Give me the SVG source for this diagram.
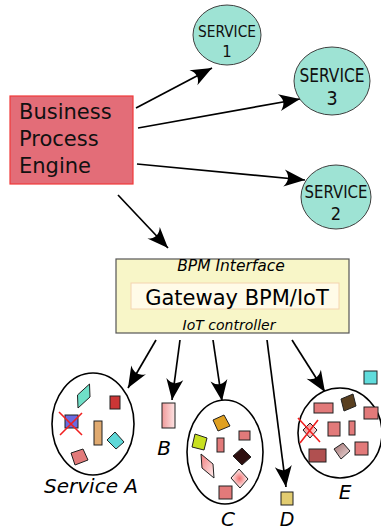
<svg xmlns="http://www.w3.org/2000/svg" width="381" height="531" viewBox="0 0 381 531">
<defs>
<style>
.svc{fill:#9ee3d4;stroke:#404040;stroke-width:1}
.svt{font-family:"DejaVu Sans Condensed","DejaVu Sans",sans-serif;fill:#111;text-anchor:middle}
.con{stroke:#000;stroke-width:1.7;fill:none}
.grp{fill:#fff;stroke:#000;stroke-width:1.6}
.ob{stroke:#202020;stroke-width:1}
.sal{fill:#e27a7a}
.x{stroke:#f02020;stroke-width:1.6;fill:none}
.lbl{font-family:"DejaVu Sans",sans-serif;font-style:italic;fill:#000}
</style>
<marker id="ah" viewBox="-22 -10 24 20" refX="0" refY="0" markerWidth="24" markerHeight="20" markerUnits="userSpaceOnUse" orient="auto">
<path d="M0,0 L-21,-8.5 Q-13,0 -21,8.5 Z" fill="#000"/>
</marker>
<linearGradient id="gpink" x1="0" y1="0" x2="1" y2="0">
<stop offset="0" stop-color="#f09a9a"/><stop offset="1" stop-color="#fde4e4"/>
</linearGradient>
<linearGradient id="gpar" x1="0" y1="0" x2="1" y2="1">
<stop offset="0" stop-color="#f07c7c"/><stop offset="1" stop-color="#fff0f0"/>
</linearGradient>
<radialGradient id="grad">
<stop offset="0" stop-color="#f07070"/><stop offset="1" stop-color="#fff4f4"/>
</radialGradient>
<linearGradient id="gbr" x1="0" y1="0" x2="1" y2="1">
<stop offset="0" stop-color="#a07070"/><stop offset="1" stop-color="#f0dcdc"/>
</linearGradient>
</defs>
<rect width="381" height="531" fill="#fff"/>

<g id="connectors">
<line class="con" x1="136" y1="108" x2="212" y2="68" marker-end="url(#ah)"/>
<line class="con" x1="138" y1="128" x2="300" y2="99" marker-end="url(#ah)"/>
<line class="con" x1="137" y1="164" x2="305" y2="180" marker-end="url(#ah)"/>
<line class="con" x1="118" y1="195" x2="168" y2="248" marker-end="url(#ah)"/>
<line class="con" x1="156" y1="340" x2="128" y2="388" marker-end="url(#ah)"/>
<line class="con" x1="180" y1="340" x2="172" y2="400" marker-end="url(#ah)"/>
<line class="con" x1="213" y1="340" x2="222" y2="401" marker-end="url(#ah)"/>
<line class="con" x1="267" y1="340" x2="286" y2="487" marker-end="url(#ah)"/>
<line class="con" x1="292" y1="340" x2="325" y2="392" marker-end="url(#ah)"/>
</g>

<g id="bpe">
<rect x="10" y="96" width="123" height="88" fill="#e36d78" stroke="#f03a3a" stroke-width="1.2"/>
<text font-family="DejaVu Sans,sans-serif" font-size="21" fill="#111"><tspan x="19" y="119">Business</tspan><tspan x="19" y="146">Process</tspan><tspan x="19" y="173">Engine</tspan></text>
</g>

<g id="service1">
<ellipse class="svc" cx="227" cy="35" rx="34" ry="30"/>
<text class="svt" font-size="16.5"><tspan x="227" y="37" textLength="58" lengthAdjust="spacingAndGlyphs">SERVICE</tspan><tspan x="227" y="57">1</tspan></text>
</g>
<g id="service3">
<ellipse class="svc" cx="332" cy="81" rx="38" ry="34"/>
<text class="svt" font-size="19.5"><tspan x="332" y="82" textLength="65" lengthAdjust="spacingAndGlyphs">SERVICE</tspan><tspan x="332" y="105">3</tspan></text>
</g>
<g id="service2">
<ellipse class="svc" cx="336" cy="197" rx="35" ry="32"/>
<text class="svt" font-size="18"><tspan x="336" y="198" textLength="63" lengthAdjust="spacingAndGlyphs">SERVICE</tspan><tspan x="336" y="220">2</tspan></text>
</g>

<g id="gateway">
<rect x="116" y="259" width="233" height="74" fill="#f8f6c8" stroke="#555" stroke-width="1.2"/>
<text class="lbl" x="231" y="271" font-size="15.5" text-anchor="middle">BPM Interface</text>
<rect x="131" y="283" width="208" height="26" fill="#fffbe8" stroke="#f4d4b0" stroke-width="1"/>
<text x="237" y="305" font-family="DejaVu Sans,sans-serif" font-size="21" text-anchor="middle" fill="#000">Gateway BPM/IoT</text>
<text class="lbl" x="229" y="330" font-size="14" text-anchor="middle">IoT controller</text>
</g>

<g id="serviceA">
<ellipse class="grp" cx="93" cy="424" rx="41" ry="51"/>
<polygon class="ob" points="77.5,395 89.5,384 90,397 78,408" fill="#6fe0c8"/>
<rect class="ob" x="110" y="396" width="10" height="13" fill="#cc3636"/>
<rect class="ob" x="65" y="415" width="13" height="13" fill="#6a6ae0"/>
<path class="x" d="M59,412 L82,435 M60,435 L82,413"/>
<rect class="ob" x="94" y="421" width="8" height="24" fill="#e0aa70"/>
<polygon class="ob" points="107,440 115,432 124,442 116,449" fill="#60d8d8"/>
<polygon class="ob sal" points="71,453 83,449 88,460 75,465"/>
<text class="lbl" x="91" y="493" font-size="20" text-anchor="middle">Service A</text>
</g>

<g id="serviceB">
<rect class="ob" x="162" y="403" width="13" height="25" fill="url(#gpink)"/>
<text class="lbl" x="164" y="455" font-size="20" text-anchor="middle">B</text>
</g>

<g id="serviceC">
<ellipse class="grp" cx="225" cy="452" rx="38" ry="52"/>
<polygon class="ob" points="213,420 224,415 230,426 218,431" fill="#e0a020"/>
<rect class="ob sal" x="239" y="431" width="11" height="9"/>
<polygon class="ob" points="195,434 207,438 204,450 192,447" fill="#c8e020"/>
<rect class="ob sal" x="217" y="438" width="7" height="14"/>
<polygon class="ob" points="233,456 242,448 251,457 242,465" fill="#2e1010"/>
<polygon class="ob" points="201,454 213,464 214,478 202,468" fill="url(#gpar)"/>
<polygon class="ob" points="231,478 239,469 248,479 240,488" fill="url(#grad)"/>
<rect class="ob sal" x="219" y="486" width="13" height="13"/>
<text class="lbl" x="228" y="526" font-size="20" text-anchor="middle">C</text>
</g>

<g id="serviceD">
<rect class="ob" x="281" y="492" width="12" height="13" fill="#e2cc70"/>
<text class="lbl" x="287" y="526" font-size="19" text-anchor="middle">D</text>
</g>

<g id="serviceE">
<ellipse class="grp" cx="340" cy="433" rx="42" ry="45"/>
<rect class="ob sal" x="314" y="403" width="19" height="10"/>
<polygon class="ob" points="341,399 353,394 356,406 344,411" fill="#5a4020"/>
<rect class="ob sal" x="364" y="407" width="14" height="12"/>
<polygon class="ob" points="303,430 310,423 317,430 310,438" fill="url(#gpar)"/>
<path class="x" d="M298,418 L320,442 M300,443 L318,420"/>
<rect class="ob sal" x="328" y="422" width="12" height="14"/>
<rect class="ob sal" x="349" y="421" width="6" height="14"/>
<rect class="ob" x="309" y="449" width="17" height="13" fill="#b05050"/>
<polygon class="ob" points="334,449 343,443 350,451 341,459" fill="url(#gbr)"/>
<rect class="ob sal" x="355" y="442" width="13" height="13"/>
<text class="lbl" x="345" y="499" font-size="20" text-anchor="middle">E</text>
</g>

<g id="cyan-item">
<rect class="ob" x="364" y="371" width="13" height="13" fill="#60dcdc"/>
</g>
</svg>
